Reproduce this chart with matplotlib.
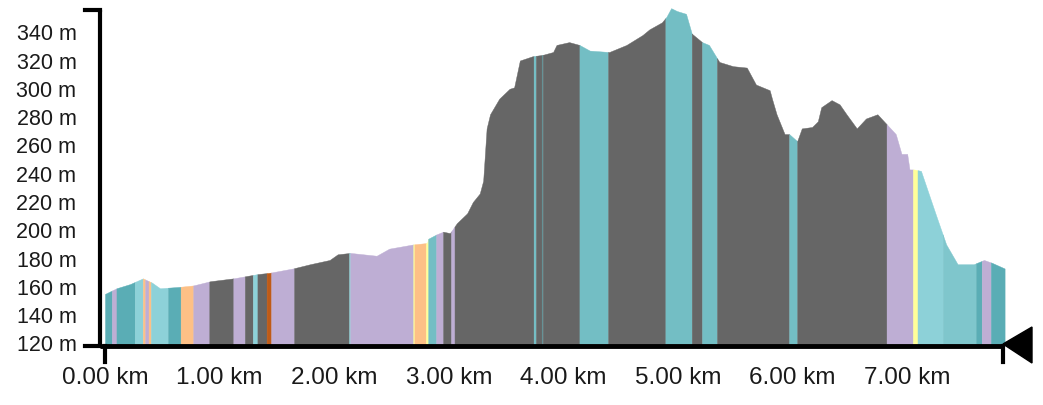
import numpy as np
import matplotlib
matplotlib.use("Agg")
import matplotlib.pyplot as plt
from matplotlib.patches import Polygon

plt.rcParams['font.family'] = ['Liberation Sans', 'DejaVu Sans']

# elevation profile
dist_km = [0.00, 0.10, 0.22, 0.33, 0.41, 0.48, 0.65, 0.77, 0.92, 1.12, 1.33, 1.44,
           1.64, 1.79, 1.96, 2.03, 2.14, 2.37, 2.48, 2.69, 2.81, 2.82, 2.89, 2.95,
           3.01, 3.07, 3.16, 3.21, 3.27, 3.30, 3.33, 3.36, 3.44, 3.53, 3.57, 3.62,
           3.73, 3.82, 3.91, 3.94, 4.05, 4.14, 4.23, 4.40, 4.55, 4.69, 4.75, 4.86,
           4.90, 4.94, 4.99, 5.07, 5.12, 5.21, 5.27, 5.36, 5.48, 5.60, 5.68, 5.80,
           5.82, 5.86, 5.93, 5.97, 6.04, 6.08, 6.17, 6.22, 6.25, 6.34, 6.41, 6.47,
           6.56, 6.64, 6.74, 6.82, 6.90, 6.95, 7.00, 7.02, 7.06, 7.12, 7.25, 7.34,
           7.44, 7.58, 7.67, 7.74, 7.85]
elev_m = [155, 159, 162, 166, 163, 159, 160, 161, 164, 166, 169, 170,
          173, 176, 179, 183, 184, 182, 187, 190, 191, 194, 197, 199,
          198, 205, 212, 220, 226, 235, 272, 282, 293, 300, 301, 320,
          323, 324, 326, 331, 333, 331, 327, 326, 331, 338, 342, 347,
          351, 357, 355, 353, 339, 333, 331, 319, 316, 315, 303, 299,
          293, 282, 268, 268, 263, 272, 273, 277, 287, 292, 289, 282,
          272, 279, 282, 275, 268, 254, 254, 243, 243, 242, 211, 190,
          176, 176, 179, 177, 173]

# coloured stretches (surface / way type)
seg_bounds = [0.00, 0.06, 0.10, 0.26, 0.33, 0.35, 0.38, 0.40, 0.55, 0.66, 0.77,
              0.91, 1.12, 1.22, 1.29, 1.33, 1.41, 1.45, 1.65, 2.13, 2.14, 2.69,
              2.70, 2.80, 2.82, 2.89, 2.95, 3.02, 3.05, 3.74, 3.76, 3.81, 3.82,
              4.14, 4.39, 4.89, 5.12, 5.21, 5.34, 5.97, 6.04, 6.82, 7.05, 7.09,
              7.31, 7.60, 7.65, 7.73, 7.85]
seg_types = ['dteal', 'lav', 'dteal', 'lteal', 'peach', 'lav', 'peach', 'lteal',
             'dteal', 'peach', 'lav', 'gray', 'lav', 'gray', 'lteal', 'gray',
             'brown', 'lav', 'gray', 'lteal', 'lav', 'yel', 'peach', 'yel',
             'teal', 'lav', 'gray', 'lav', 'gray', 'teal', 'gray', 'slate',
             'gray', 'teal', 'gray', 'teal', 'gray', 'teal', 'gray', 'teal',
             'gray', 'lav', 'yel', 'lteal', 'mteal', 'dteal', 'lav', 'dteal']

palette = {'dteal': '#5aadb5', 'teal': '#73bec4', 'lteal': '#8dd1d8',
           'mteal': '#7fc6cc', 'lav': '#beaed4', 'peach': '#fdc086',
           'yel': '#ffff99', 'brown': '#bf5b17', 'gray': '#666666',
           'slate': '#5f8f93'}

x_ticks = [0, 1, 2, 3, 4, 5, 6, 7]
y_ticks = [120, 140, 160, 180, 200, 220, 240, 260, 280, 300, 320, 340]

dist = np.array(dist_km)
elev = np.array(elev_m)

W, H = 1043, 405
fig = plt.figure(figsize=(W / 100, H / 100), dpi=100)
ax_l, ax_r, ax_t, ax_b = 100, 1004.6, 10, 346
ax = fig.add_axes([ax_l / W, 1 - ax_b / H, (ax_r - ax_l) / W, (ax_b - ax_t) / H])
xpx = (ax_r - ax_l)
ymin, ymax = 118.2, 355.7
ax.set_xlim(-5 / 114.6, dist[-1])
ax.set_ylim(ymin, ymax)

for a, b, t in zip(seg_bounds[:-1], seg_bounds[1:], seg_types):
    inner = dist[(dist > a) & (dist < b)]
    xs = np.concatenate([[a], inner, [b]])
    ys = np.interp(xs, dist, elev)
    c = palette[t]
    ax.fill_between(xs, ymin, ys, facecolor=c, edgecolor=c, linewidth=0.3,
                    clip_on=False, zorder=1)

for s in ax.spines.values():
    s.set_visible(False)

ax.set_xticks(x_ticks)
ax.set_xticklabels(["%.2f km" % v for v in x_ticks], fontsize=17.5)
ax.set_yticks(y_ticks)
ax.set_yticklabels(["%d m" % v for v in y_ticks], fontsize=15.5)
ax.tick_params(axis='x', length=0, pad=15, colors='#1a1a1a')
ax.tick_params(axis='y', length=0, pad=17, colors='#1a1a1a')

# y bracket
tr = ax.transAxes
tick_w = 15 / xpx
ax.plot([0, 0], [0, 1], color='black', lw=3, transform=tr, clip_on=False,
        solid_capstyle='butt', zorder=5)
ax.plot([-tick_w, 0], [1, 1], color='black', lw=3, transform=tr, clip_on=False, zorder=5)
ax.plot([-tick_w, 0], [0, 0], color='black', lw=3, transform=tr, clip_on=False, zorder=5)

# x axis line with end ticks
end_frac = (1003 - ax_l) / xpx
ax.plot([0, end_frac], [0, 0], color='black', lw=3.5, transform=tr, clip_on=False,
        solid_capstyle='butt', zorder=5)
tick_h = 16 / (ax_b - ax_t)
x0 = 5 / xpx
ax.plot([x0, x0], [0, -tick_h], color='black', lw=3, transform=tr, clip_on=False, zorder=5)
ax.plot([end_frac, end_frac], [0, -tick_h], color='black', lw=3, transform=tr,
        clip_on=False, zorder=5)

# position marker at the end of the track
px_h = 1 / (ax_b - ax_t)
tri = Polygon([[end_frac, 2 * px_h], [end_frac + 29 / xpx, 19 * px_h],
               [end_frac + 29 / xpx, -17 * px_h]], closed=True, color='black',
              transform=tr, clip_on=False, zorder=6)
ax.add_patch(tri)

fig.savefig("out.png", dpi=100, facecolor='white')
